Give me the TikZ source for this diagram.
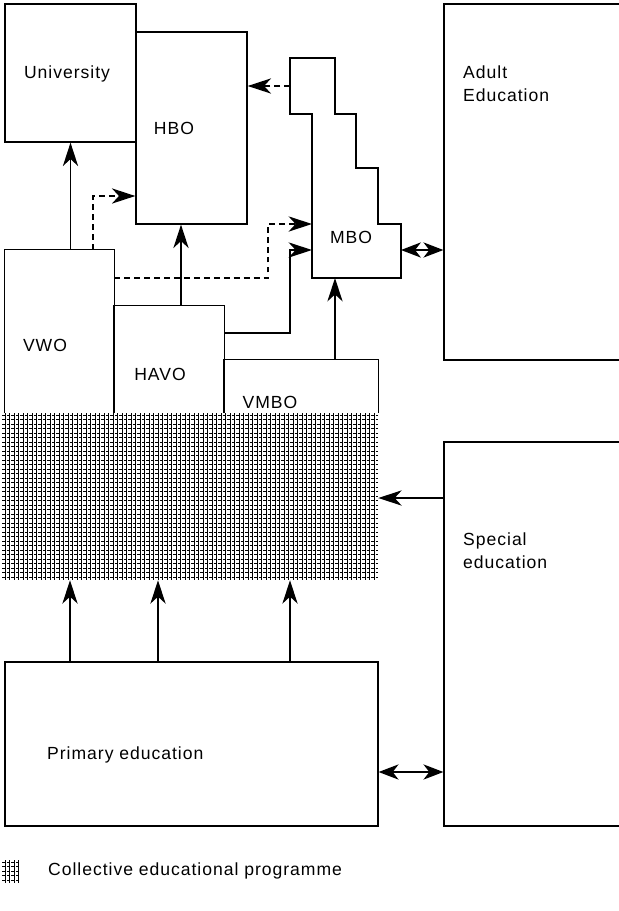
\documentclass[tikz,border=0pt]{standalone}
\usepackage{fontspec}
\setmainfont[LetterSpace=5.5]{Liberation Sans}
\usetikzlibrary{arrows.meta, fit}

\begin{document}
\begin{tikzpicture}[
  x=0.03cm, y=-0.03cm,
  every node/.style={font=\fontsize{15}{19.5}\selectfont},
  level/.style={rectangle, draw=black, line width=1.1pt, inner sep=0pt},
  open/.style={rectangle, inner sep=0pt},
  lbl/.style={inner sep=0pt, align=left},
  wall/.style={line width=1.1pt},
  arr/.style={-{Stealth[length=20pt, width=13pt, inset=6pt]}, line width=1.1pt},
  darr/.style={arr, dash pattern=on 5pt off 3.5pt},
  both/.style={{Stealth[length=17pt, width=13pt, inset=5pt]}-{Stealth[length=17pt, width=13pt, inset=5pt]}, line width=1.1pt},
  hatch/.style={line width=0.8pt}
]
  \useasboundingbox (0,0) rectangle (619,911);

  % Higher education
  \node[level, fit={(5,4) (136,142)}] (univ) {};
  \node[lbl] (univtxt) at (67,74) {University};
  \node[level, fit={(136,32) (247,224)}] (hbo) {};
  \node[lbl] (hbotxt) at (174,128) {HBO};

  % MBO staircase
  \draw[wall] (290,58) -| (335,114) -| (356,168) -| (378,224) -| (401,278)
    -| (312,114) -- (290,114) -- cycle;
  \node[lbl] (mbo) at (351,237) {MBO};
  \coordinate (mbo-in1) at (312,224);
  \coordinate (mbo-in2) at (312,250);
  \coordinate (mbo-out) at (290,86);
  \coordinate (mbo-bot) at (335,278);
  \coordinate (mbo-east) at (401,250);

  % Right column
  \node[level, fit={(444,4) (640,360)}] (adult) {};
  \node[lbl, anchor=west] (adulttxt) at (463,84) {Adult\\Education};
  \node[level, fit={(444,442) (640,826)}] (special) {};
  \node[lbl, anchor=west] (specialtxt) at (463,551) {Special\\education};

  % Secondary education
  \node[open, fit={(5,250) (114,413)}] (vwo) {};
  \draw[wall] (vwo.south west) |- (vwo.north east) -- (vwo.south east);
  \node[lbl] (vwotxt) at (45,345) {VWO};
  \node[open, fit={(114,306) (224,413)}] (havo) {};
  \draw[wall] (havo.south west) |- (havo.north east) -- (havo.south east);
  \node[lbl] (havotxt) at (160,374) {HAVO};
  \node[open, fit={(224,360) (378,413)}] (vmbo) {};
  \draw[wall] (vmbo.south west) |- (vmbo.north east) -- (vmbo.south east);
  \node[lbl] (vmbotxt) at (270,402) {VMBO};

  % Collective educational programme (hatched)
  \node[open, fit={(5,413) (378,580)}] (cep) {};
  \begin{scope}[hatch]
    \foreach \i in {0,...,82}
      \draw (5+4.5*\i,413) -- (5+4.5*\i,580);
    \foreach \j in {0,...,36}
      \draw[dash pattern=on 2.3pt off 1.54pt] (2.3,415+4.5*\j) -- (378,415+4.5*\j);
  \end{scope}

  % Primary education
  \node[level, fit={(5,662) (378,826)}] (primary) {};
  \node[lbl, anchor=west] (primarytxt) at (47,755) {Primary education};

  % Arrows
  \draw[arr] (univ.south |- vwo.north) -- (univ.south);
  \draw[darr] (vwo.north -| 93,0) |- (hbo.west |- 0,196);
  \draw[arr] (havo.north -| 181,0) -- (hbo.south -| 181,0);
  \draw[darr] (vwo.east |- 0,278) -| (268,224) -- (mbo-in1);
  \draw[arr] (havo.east |- 0,333) -| (290,250) -- (mbo-in2);
  \draw[arr] (vmbo.north -| mbo-bot) -- (mbo-bot);
  \draw[darr] (mbo-out) -- (hbo.east |- mbo-out);
  \draw[both] (mbo-east) -- (adult.west |- mbo-east);
  \draw[arr] (special.west |- 0,498) -- (cep.east |- 0,498);
  \foreach \x in {70,158,290}
    \draw[arr] (primary.north -| \x,0) -- (cep.south -| \x,0);
  \draw[both] (primary.east |- 0,772) -- (special.west |- 0,772);

  % Legend
  \node[open, fit={(3,860) (19,883)}] (legsym) {};
  \begin{scope}[hatch]
    \foreach \i in {0,...,3}
      \draw (5+4.5*\i,860) -- (5+4.5*\i,883);
    \foreach \j in {0,...,4}
      \draw[dash pattern=on 2.3pt off 1.54pt] (2.3,862+4.5*\j) -- (19,862+4.5*\j);
  \end{scope}
  \node[lbl, anchor=west] (legtxt) at (48,871) {Collective educational programme};
\end{tikzpicture}
\end{document}
